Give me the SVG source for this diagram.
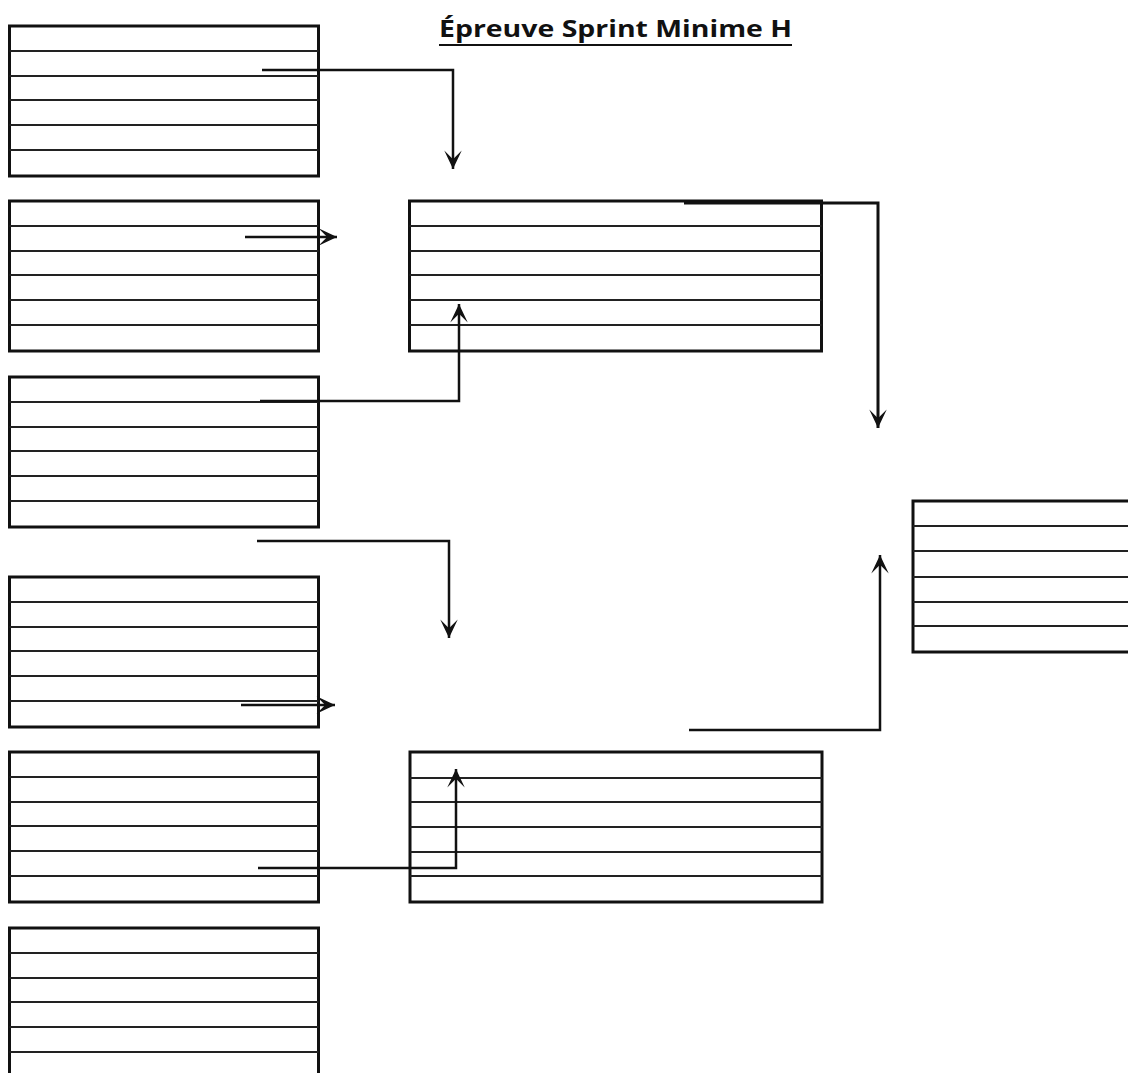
<svg xmlns="http://www.w3.org/2000/svg" width="1128" height="1073" viewBox="0 0 1128 1073">
<style>
.frame{fill:#fff;stroke:#111;stroke-width:3}
.row{stroke:#222;stroke-width:2}
.conn{fill:none;stroke:#111;stroke-width:2.5}
.title{font-family:"Open Sans","Liberation Sans",sans-serif;font-weight:bold;font-size:23px;fill:#111}
</style>
<defs>
<marker id="ah" markerUnits="userSpaceOnUse" markerWidth="24" markerHeight="24" viewBox="-20 -10 22 20" refX="0" refY="0" orient="auto">
<path d="M0,0 L-17,-8 L-9,0 L-17,8 Z" fill="#111"/>
</marker>
<g id="rows6">
<line class="row" x1="0" y1="25" x2="309" y2="25"/>
<line class="row" x1="0" y1="50" x2="309" y2="50"/>
<line class="row" x1="0" y1="74" x2="309" y2="74"/>
<line class="row" x1="0" y1="99" x2="309" y2="99"/>
<line class="row" x1="0" y1="124" x2="309" y2="124"/>
</g>
</defs>
<rect width="1128" height="1073" fill="#fff"/>
<g id="title">
<text class="title" x="439" y="37" textLength="353" lengthAdjust="spacingAndGlyphs">Épreuve Sprint Minime H</text>
<line x1="439" y1="45" x2="792" y2="45" stroke="#111" stroke-width="2"/>
</g>
<g id="box1"><rect class="frame" x="9.5" y="26" width="309" height="150"/><use href="#rows6" x="9.5" y="26"/></g>
<g id="box2"><rect class="frame" x="9.5" y="201" width="309" height="150"/><use href="#rows6" x="9.5" y="201"/></g>
<g id="box3"><rect class="frame" x="9.5" y="377" width="309" height="150"/><use href="#rows6" x="9.5" y="377"/></g>
<g id="box4"><rect class="frame" x="9.5" y="577" width="309" height="150"/><use href="#rows6" x="9.5" y="577"/></g>
<g id="box5"><rect class="frame" x="9.5" y="752" width="309" height="150"/><use href="#rows6" x="9.5" y="752"/></g>
<g id="box6"><rect class="frame" x="9.5" y="928" width="309" height="150"/><use href="#rows6" x="9.5" y="928"/></g>
<g id="semi1"><rect class="frame" x="409.5" y="201" width="412" height="150"/>
<line class="row" x1="409.5" y1="226" x2="821.5" y2="226"/><line class="row" x1="409.5" y1="251" x2="821.5" y2="251"/><line class="row" x1="409.5" y1="275" x2="821.5" y2="275"/><line class="row" x1="409.5" y1="300" x2="821.5" y2="300"/><line class="row" x1="409.5" y1="325" x2="821.5" y2="325"/></g>
<g id="semi2"><rect class="frame" x="410" y="752" width="412" height="150"/>
<line class="row" x1="410" y1="778" x2="822" y2="778"/><line class="row" x1="410" y1="802" x2="822" y2="802"/><line class="row" x1="410" y1="827" x2="822" y2="827"/><line class="row" x1="410" y1="852" x2="822" y2="852"/><line class="row" x1="410" y1="876" x2="822" y2="876"/></g>
<g id="final"><rect class="frame" x="913" y="501" width="240" height="151"/>
<line class="row" x1="913" y1="526" x2="1128" y2="526"/><line class="row" x1="913" y1="551" x2="1128" y2="551"/><line class="row" x1="913" y1="577" x2="1128" y2="577"/><line class="row" x1="913" y1="602" x2="1128" y2="602"/><line class="row" x1="913" y1="626" x2="1128" y2="626"/></g>
<g id="connectors">
<path class="conn" d="M262,70 H453 V169" marker-end="url(#ah)"/>
<path class="conn" d="M245,237 H337" marker-end="url(#ah)"/>
<path class="conn" d="M260,401 H459 V304" marker-end="url(#ah)"/>
<path class="conn" d="M684,203 H878 V428" marker-end="url(#ah)" style="stroke-width:3"/>
<path class="conn" d="M257,541 H449 V638" marker-end="url(#ah)"/>
<path class="conn" d="M241,705 H335" marker-end="url(#ah)"/>
<path class="conn" d="M258,868 H456 V769" marker-end="url(#ah)"/>
<path class="conn" d="M689,730 H880 V555" marker-end="url(#ah)"/>
</g>
</svg>
